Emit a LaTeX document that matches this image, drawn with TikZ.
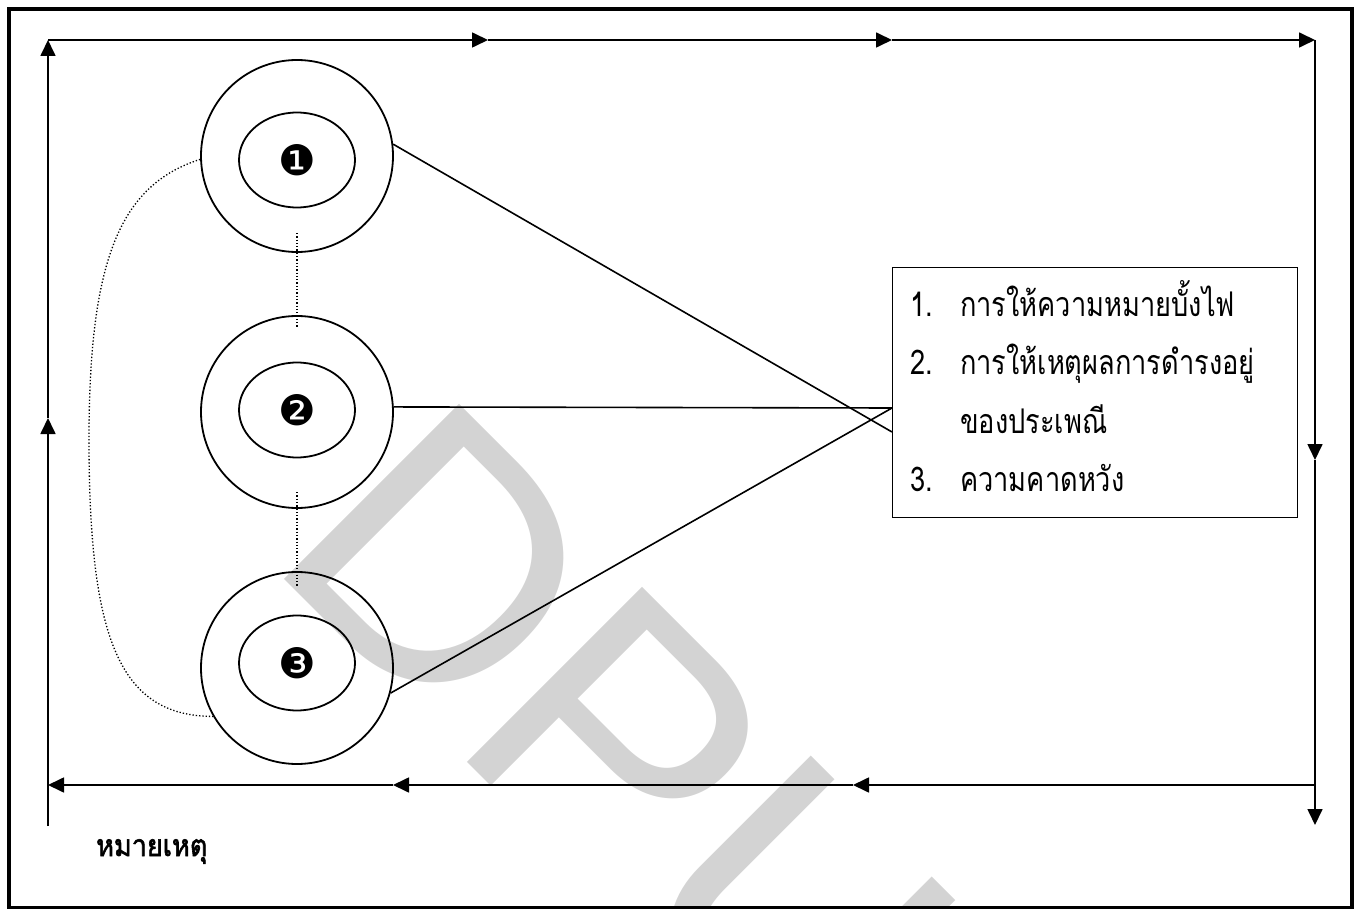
\documentclass[tikz,border=0pt]{standalone}
\usepackage{fontspec}
\usetikzlibrary{arrows.meta,shapes.geometric}
\newfontfamily\thaifont[Script=Thai,FakeStretch=0.8]{Loma}
\newfontfamily\thainote[Script=Thai,FakeStretch=0.9,FakeBold=2]{Loma}
\newfontfamily\dejavu{DejaVu Sans}
\newfontfamily\wmfont{Liberation Sans}
\definecolor{wmgray}{HTML}{D3D3D3}
\begin{document}
\begin{tikzpicture}[x=1pt,y=-1pt,
  flow/.style={line width=1.7pt,-{Triangle[length=16pt,width=15pt]}},
  plain/.style={line width=1.6pt},
  outer/.style={circle,draw,line width=1.8pt,minimum size=192pt,inner sep=0pt},
  inner/.style={ellipse,draw,line width=1.8pt,minimum width=116pt,minimum height=95pt,inner sep=0pt,font=\dejavu\fontsize{42}{42}\selectfont},
  dotline/.style={line width=1.3pt,dotted},
  thaitxt/.style={anchor=base west,inner sep=0pt,font=\thaifont\fontsize{34}{34}\selectfont}]
\useasboundingbox (0,0) rectangle (1361,909);
\clip (0,0) rectangle (1361,909);
% watermark
\node[anchor=base west,inner sep=0pt,rotate=-45,text=wmgray,font=\wmfont\fontsize{360}{360}\selectfont] (wm) at (263,558) {DPU};
% frame
\draw[line width=3.5pt] (9,9) rectangle (1352,908);
% flow path coordinates
\coordinate (TL) at (48,40);
\coordinate (T1) at (488,40);
\coordinate (T2) at (892,40);
\coordinate (TR) at (1315,40);
\coordinate (R1) at (1315,460);
\coordinate (RB) at (1315,825);
\coordinate (BR) at (1315,785);
\coordinate (B1) at (853,785);
\coordinate (B2) at (393,785);
\coordinate (BL) at (48,785);
\coordinate (LB) at (48,826);
\coordinate (L1) at (48,418);
\draw[flow] (TL) -- (T1);
\draw[flow] (T1) -- (T2);
\draw[flow] (T2) -- (TR);
\draw[flow] (TR) -- (R1);
\draw[flow] (R1) -- (RB);
\draw[flow] (BR) -- (B1);
\draw[flow] (B1) -- (B2);
\draw[flow] (B2) -- (BL);
\draw[flow] (LB) -- (L1);
\draw[flow] (L1) -- (TL);
% circles
\node[outer] (c1) at (297,156) {};
\node[outer] (c2) at (297,412) {};
\node[outer] (c3) at (297,668) {};
\node[inner] (e1) at (297,160) {❶};
\node[inner] (e2) at (297,410) {❷};
\node[inner] (e3) at (297,663) {❸};
% dotted links
\coordinate (d1a) at (297,233);
\coordinate (d1b) at (297,327);
\coordinate (d2a) at (297,492);
\coordinate (d2b) at (297,586);
\draw[dotline] (d1a) -- (d1b);
\draw[dotline] (d2a) -- (d2b);
\draw[dotline] (c1.182) .. controls (120,185) and (89,260) .. (89,440) .. controls (89,640) and (120,716) .. (c3.210);
% box
\node[draw,line width=1.4pt,minimum width=405pt,minimum height=250pt,inner sep=0pt,anchor=north west] (box) at (892,267) {};
\coordinate (p1) at (892,432);
\coordinate (p2) at (892,408);
\draw[plain] (c1.7) -- (p1);
\draw[plain] (c2.3) -- (p2);
\draw[plain] (c3.-15) -- (p2);
% box text
\node[thaitxt] (n1) at (910,317) {1.};
\node[thaitxt] (t1) at (960,317) {การให้ความหมายบั้งไฟ};
\node[thaitxt] (n2) at (910,375) {2.};
\node[thaitxt] (t2) at (960,375) {การให้เหตุผลการดำรงอยู่};
\node[thaitxt] (t3) at (960,433) {ของประเพณี};
\node[thaitxt] (n3) at (910,491) {3.};
\node[thaitxt] (t4) at (960,491) {ความคาดหวัง};
% note
\node[anchor=base west,inner sep=0pt,font=\thainote\fontsize{30}{30}\selectfont] (note) at (96,856) {หมายเหตุ};
\end{tikzpicture}
\end{document}
